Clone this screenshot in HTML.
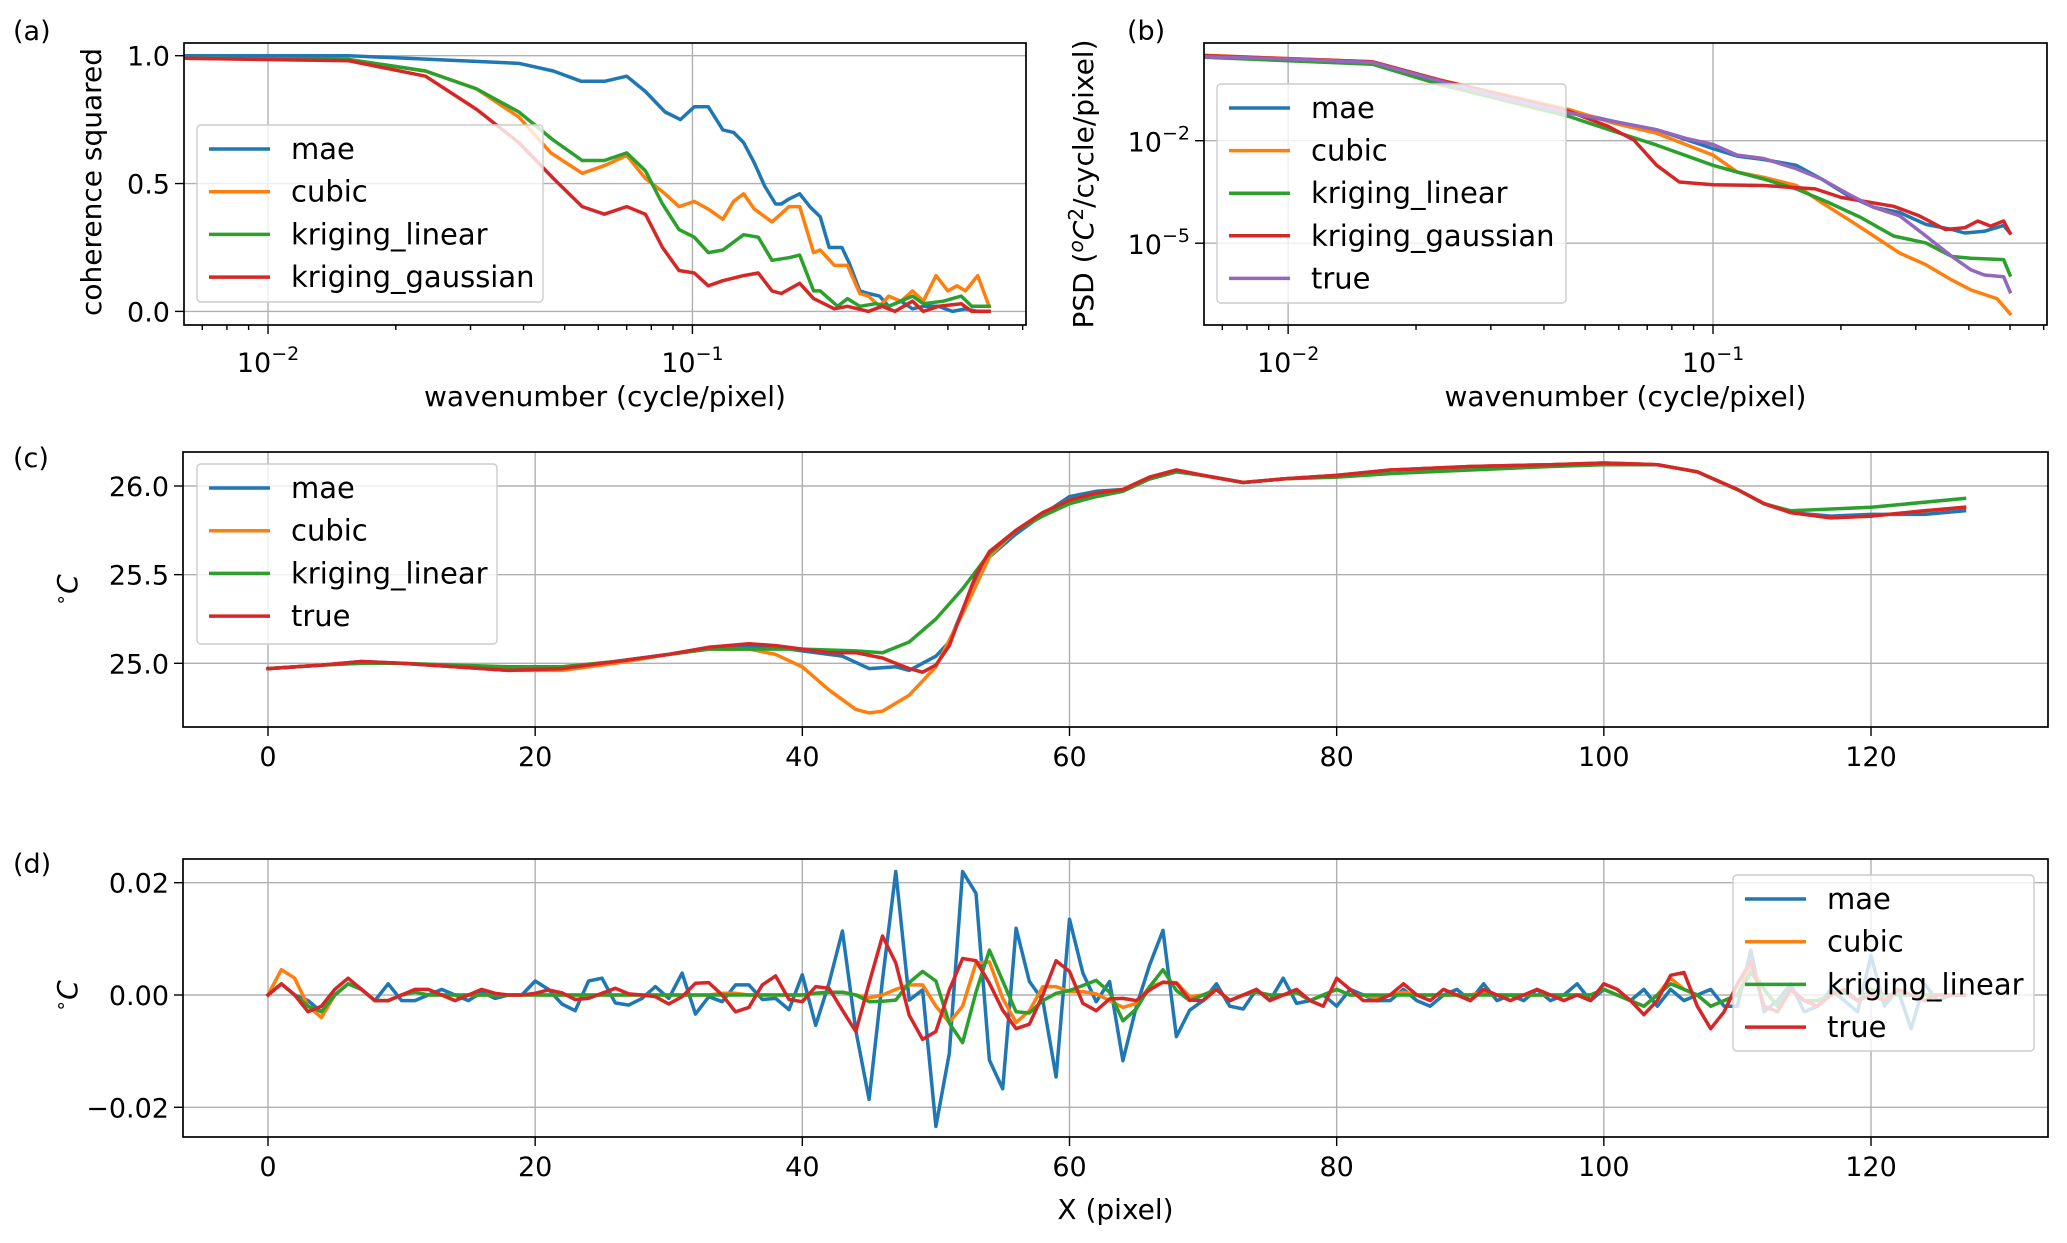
<!DOCTYPE html>
<html><head><meta charset="utf-8">
<style>
html,body{margin:0;padding:0;background:#fff;}
svg{display:block;font-family:"DejaVu Sans","Liberation Sans",sans-serif;}
</style></head>
<body>
<svg id="fig" width="2067" height="1243" viewBox="0 0 2067 1243" xmlns="http://www.w3.org/2000/svg">
</svg>
<script>
// ---------- Panel (a): coherence squared ----------
const cohMaeF = [0.00637,0.0155,0.0391,0.047,0.0547,0.0621,0.07,0.0775,0.0862,0.0937,0.101,0.109,0.118,0.125,0.132,0.14,0.148,0.157,0.162,0.169,0.179,0.189,0.2,0.21,0.225,0.234,0.248,0.26,0.276,0.29,0.31,0.33,0.35,0.38,0.41,0.44,0.47,0.5];
const cohMae = [1.0,1.0,0.97,0.94,0.90,0.90,0.92,0.86,0.78,0.75,0.80,0.80,0.71,0.70,0.66,0.58,0.49,0.42,0.42,0.44,0.46,0.41,0.37,0.25,0.25,0.19,0.08,0.07,0.06,0.02,0.04,0.01,0.02,0.02,0.0,0.01,0.0,0.0];
const cohCubicF = [0.00637,0.0155,0.0235,0.031,0.039,0.0464,0.055,0.062,0.07,0.0775,0.0862,0.093,0.101,0.109,0.118,0.125,0.132,0.14,0.154,0.169,0.179,0.193,0.2,0.216,0.232,0.248,0.26,0.276,0.29,0.31,0.33,0.35,0.375,0.4,0.42,0.44,0.47,0.5];
const cohCubic = [0.99,0.985,0.94,0.87,0.76,0.62,0.54,0.57,0.61,0.52,0.46,0.41,0.43,0.40,0.36,0.43,0.46,0.40,0.35,0.41,0.41,0.23,0.24,0.18,0.18,0.07,0.06,0.02,0.06,0.04,0.08,0.04,0.14,0.08,0.10,0.08,0.14,0.02];
const cohLinF = [0.00637,0.0155,0.0235,0.031,0.039,0.047,0.055,0.062,0.07,0.0775,0.085,0.093,0.101,0.109,0.118,0.132,0.143,0.154,0.169,0.179,0.193,0.2,0.22,0.232,0.248,0.27,0.29,0.33,0.35,0.39,0.43,0.455,0.5];
const cohLin = [0.99,0.985,0.94,0.87,0.78,0.67,0.59,0.59,0.62,0.55,0.42,0.32,0.29,0.23,0.24,0.30,0.29,0.20,0.21,0.22,0.08,0.08,0.02,0.05,0.02,0.03,0.02,0.06,0.03,0.04,0.06,0.02,0.02];
const cohGauF = [0.00637,0.0155,0.0235,0.031,0.039,0.047,0.055,0.062,0.07,0.0775,0.085,0.093,0.101,0.109,0.118,0.132,0.143,0.154,0.162,0.179,0.193,0.216,0.232,0.26,0.28,0.3,0.33,0.35,0.38,0.43,0.455,0.5];
const cohGau = [0.99,0.98,0.92,0.79,0.66,0.52,0.41,0.38,0.41,0.38,0.25,0.16,0.15,0.10,0.12,0.14,0.15,0.08,0.07,0.11,0.05,0.01,0.02,0.0,0.02,0.0,0.04,0.0,0.02,0.03,0.0,0.0];
const cohYTicks = [0.0,0.5,1.0];
const cohYLabels = ["0.0","0.5","1.0"];

// ---------- Panel (b): PSD (log10 values) ----------
const psdTrueF = [0.00634,0.01,0.0158,0.0227,0.0322,0.0458,0.0586,0.0737,0.0863,0.1,0.114,0.1315,0.157,0.18,0.208,0.239,0.275,0.317,0.365,0.405,0.435,0.483,0.5];
const psdTrue = [0.458,0.39,0.29,-0.25,-0.75,-1.19,-1.44,-1.68,-1.93,-2.11,-2.42,-2.52,-2.82,-3.12,-3.56,-3.95,-4.2,-4.79,-5.39,-5.78,-5.93,-5.98,-6.42];
const psdMaeF = [0.00634,0.01,0.0158,0.0227,0.0322,0.0458,0.0586,0.0737,0.1,0.114,0.1315,0.157,0.18,0.208,0.239,0.275,0.317,0.365,0.391,0.435,0.483,0.5];
const psdMae = [0.458,0.39,0.29,-0.25,-0.75,-1.14,-1.44,-1.68,-2.23,-2.45,-2.55,-2.72,-3.12,-3.61,-3.95,-4.1,-4.45,-4.6,-4.7,-4.65,-4.48,-4.7];
const psdCubicF = [0.00634,0.0158,0.0227,0.0458,0.0586,0.0737,0.1,0.114,0.1315,0.157,0.18,0.208,0.239,0.275,0.317,0.365,0.405,0.466,0.5];
const psdCubic = [0.5,0.31,-0.22,-1.09,-1.49,-1.78,-2.42,-2.92,-3.07,-3.31,-3.81,-4.3,-4.79,-5.29,-5.63,-6.08,-6.37,-6.62,-7.06];
const psdLinF = [0.00634,0.0158,0.0227,0.0458,0.0586,0.0737,0.1,0.114,0.1315,0.157,0.187,0.223,0.266,0.317,0.365,0.405,0.483,0.5];
const psdLin = [0.44,0.24,-0.35,-1.29,-1.73,-2.13,-2.72,-2.92,-3.12,-3.41,-3.81,-4.25,-4.79,-4.99,-5.39,-5.44,-5.48,-5.93];
const psdGauF = [0.00634,0.0158,0.0227,0.0458,0.0566,0.0651,0.0737,0.0833,0.1,0.1315,0.174,0.2,0.266,0.306,0.352,0.391,0.42,0.45,0.483,0.5];
const psdGau = [0.49,0.31,-0.22,-1.14,-1.58,-1.98,-2.72,-3.21,-3.29,-3.31,-3.41,-3.66,-3.92,-4.2,-4.6,-4.55,-4.35,-4.5,-4.35,-4.7];
const psdYTicks = [-5,-2];

// ---------- Panel (c): temperature profile ----------
const tTrueX = [0,4,7,10,14,18,22,26,30,33,36,38,40,42,44,46,48,49,50,51,52,53,54,56,58,60,62,64,66,68,70,73,76,80,84,90,96,100,104,107,110,112,114,117,120,124,127];
const tTrue = [24.97,24.99,25.01,25.0,24.98,24.96,24.97,25.01,25.05,25.09,25.11,25.1,25.08,25.06,25.06,25.03,24.97,24.95,24.99,25.1,25.3,25.5,25.63,25.75,25.85,25.92,25.96,25.98,26.05,26.09,26.06,26.02,26.04,26.06,26.09,26.11,26.12,26.13,26.12,26.08,25.98,25.9,25.85,25.82,25.83,25.86,25.88];
const tMaeX = [0,4,7,10,14,18,22,26,30,33,36,38,40,42,43,45,47,48,50,51,52,53,54,56,58,60,62,64,66,68,70,73,76,80,84,90,96,100,104,107,110,112,114,117,120,124,127];
const tMae = [24.97,24.99,25.01,25.0,24.98,24.96,24.97,25.01,25.05,25.09,25.1,25.09,25.07,25.05,25.04,24.97,24.98,24.96,25.04,25.12,25.3,25.48,25.6,25.73,25.84,25.94,25.97,25.98,26.04,26.08,26.06,26.02,26.04,26.06,26.09,26.11,26.12,26.13,26.12,26.08,25.98,25.9,25.85,25.83,25.84,25.84,25.86];
const tCubicX = [0,4,7,10,14,18,22,26,30,33,36,38,40,42,44,45,46,48,50,52,54,56,58,60,62,64,66,68,70,73,76,80,84,90,96,100,104,107,110,112,114,117,120,124,127];
const tCubic = [24.97,24.99,25.0,25.0,24.98,24.96,24.96,25.0,25.05,25.08,25.08,25.05,24.98,24.85,24.74,24.72,24.73,24.82,24.98,25.28,25.6,25.75,25.85,25.92,25.96,25.98,26.05,26.09,26.06,26.02,26.04,26.06,26.09,26.11,26.12,26.13,26.12,26.08,25.98,25.9,25.85,25.82,25.83,25.86,25.88];
const tLinX = [0,4,7,10,14,18,22,26,30,33,36,40,44,46,48,50,52,54,56,58,60,62,64,66,68,70,73,76,80,84,90,96,100,104,107,110,112,114,120,127];
const tLin = [24.97,24.99,25.0,25.0,24.99,24.98,24.98,25.01,25.05,25.08,25.08,25.08,25.07,25.06,25.12,25.25,25.42,25.62,25.75,25.83,25.9,25.94,25.97,26.04,26.08,26.06,26.02,26.04,26.05,26.07,26.09,26.11,26.12,26.12,26.08,25.98,25.9,25.86,25.88,25.93];
const tYTicks = [25.0,25.5,26.0];
const tYLabels = ["25.0","25.5","26.0"];
const xTicks = [0,20,40,60,80,100,120];

// ---------- Panel (d): differences (x 0.001 °C), index 0..127 ----------
const dMae = [0,2,0,-1,-3,0,2,1,-1,2,-1,-1,0,1,0,-1,0.5,-0.6,0,0,2.5,1,-1.6,-2.8,2.5,3,-1.4,-1.8,-0.6,1.5,-0.6,3.9,-3.4,-0.3,-1.2,1.8,1.8,-0.8,-0.6,-2.6,3.6,-5.4,2.1,11.4,-6.3,-18.6,2.7,22,-0.9,0.9,-23.4,-10.4,22,18.1,-11.6,-16.7,11.9,2.4,-0.9,-14.6,13.5,3.9,-1.2,2.4,-11.7,-2.1,5.4,11.5,-7.4,-2.7,-1,2,-2,-2.5,1,-1,3,-1.5,-1,0,-2,1,0,-1,-1,1,-1,-2,0,1,-1,2,-1,0,-1,1,-1,0,2,-1,1,0,-1,1,-2,1,-1,0,1,-2,-2,8,-3,-1,2,-3,-2,1,-1,-3,7,-2,1,-6,2,-1,0,0];
const dCubic = [0,4.5,3,-2,-4,0,2,1,-1,-1,0,0.5,0,0,0,0,0,0,0,0,0,0,0,0,0,0,0,0,0,0,0,0,0,0,0.3,0.3,0,0,0,0,0,0.3,0.5,0.5,0,-0.5,0,1,1.8,1.8,-2,-4.9,-2,5.7,5.9,-0.6,-4.9,-2.8,1.5,1.5,0.6,0.6,0.2,-1,-2.2,-1.5,1.5,2.2,2.2,-0.3,0,1,-1,0,0.5,0,0,0.5,-1,0,1,0,0,-0.5,0,0.5,0,0,0,0,0,0.5,0,0,0,0,0,0,0,0,1,0,-1,-2,0,3,1,0,-2,-1,0,5,1,-2,1,-1,-1,0,0.5,-1,1,0,0,0,0,0,0,0];
const dLin = [0,2,0,-2,-3,0,2,1,-1,-1,0,0.5,0,0,0,0,0,0,0,0,0,0,0,0,0,0,0,0,0,0,0,0,0,0,0,0,0,0,0,0,0,0.3,0.5,0.5,0,-1.2,-1.1,-0.9,2.2,4.2,2.5,-5,-8.5,0.5,8,2.5,-3,-3.2,-1,0.3,0.8,1.7,2.6,0.5,-4.6,-2.5,1.5,4.5,0.8,-1,0,1,-1,0,0.5,0,0,0.5,-1,0,1,0,0,0,0,0,0,0,0,0,0,0,0,0,0,0,0,0,0,0,1,0,-1,-2,0,2,1,0,-2,-1,0,4,1,-2,1,-1,-1,0,0.5,-1,1,0,0,0,0,0,0,0];
const dTrue = [0,2,0,-3,-2,1,3,1,-1,-1,0,1,1,0,-1,0,1,0.3,0,0,0.3,0.9,0.4,-0.8,-0.6,0.3,1.2,0.2,0,-0.3,-1.6,-0.3,2.1,2.2,0,-3,-2.2,1.8,3.4,-0.8,-1.2,1.5,1.2,-2.7,-6.5,2.1,10.5,5.7,-3.6,-7.9,-6.5,0.9,6.5,6.1,2.1,-2.7,-6,-5.2,0,6.1,4.2,-1.5,-2.8,-0.7,-0.6,-1,0.9,2.3,2.1,-0.9,-1,1,-1,0,1,-1,0,1,-1,-2,3,1,-1,-1,0,2,0,-1,1,0,-1,1,0,-1,0,1,0,-1,0,-1,2,1,-1,-3.5,-1,3.5,4,-2,-6,-3,2,6,-2,-3,1,-1,-2,0,1,-1,0,-1,1,0,-1,0,0,0];
const dYTicks = [-0.02,0,0.02];
const dYLabels = ["\u22120.02","0.00","0.02"];

const C = {blue:"#1f77b4", orange:"#ff7f0e", green:"#2ca02c", red:"#d62728", purple:"#9467bd"};
const NS = "http://www.w3.org/2000/svg";
const svg = document.getElementById("fig");
const LW = 3.5, FS = 27, LFS = 29, TFS = 28;

function mk(tag, attrs, parent, text){
  const e = document.createElementNS(NS, tag);
  for (const k in attrs) e.setAttribute(k, attrs[k]);
  if (text !== undefined) e.textContent = text;
  (parent||svg).appendChild(e);
  return e;
}
function linScale(d0,d1,r0,r1){return v=>r0+(v-d0)*(r1-r0)/(d1-d0);}
function logScale(l0,l1,r0,r1){return v=>r0+(Math.log10(v)-l0)*(r1-r0)/(l1-l0);}

function axesFrame(g, L,T,R,B){
  const r = mk("rect",{x:L,y:T,width:R-L,height:B-T,fill:"none",stroke:"#000","stroke-width":1.7},g);
  
  
}
function grid(g, x1,y1,x2,y2){
  const l = mk("line",{x1:x1,y1:y1,x2:x2,y2:y2,stroke:"#b0b0b0","stroke-width":1.4},g);
  
  
}
function tick(g,x1,y1,x2,y2){
  const l = mk("line",{x1:x1,y1:y1,x2:x2,y2:y2,stroke:"#000","stroke-width":1.4},g);
  
  
}
function label(g,x,y,txt,anchor,size,name,rot){
  const attrs = {x:x,y:y,"text-anchor":anchor||"middle","font-size":size||FS,fill:"#000"};
  if (rot) attrs.transform = "rotate(-90 "+x+" "+y+")";
  const t = mk("text",attrs,g,txt);
  
  
  return t;
}
function powLabel(g,x,y,exp,anchor,name){
  const t = mk("text",{x:x,y:y,"text-anchor":anchor,"font-size":FS,fill:"#000"},g);
  
  
  mk("tspan",{},t,"10");
  mk("tspan",{"font-size":19,dy:-12},t,"\u2212"+Math.abs(exp));
  return t;
}
function series(g, xs, ys, sx, sy, color, name, L,T,R,B, clipId){
  const pts = xs.map((x,i)=>sx(x).toFixed(1)+","+sy(ys[i]).toFixed(1)).join(" ");
  const p = mk("polyline",{points:pts,fill:"none",stroke:color,"stroke-width":LW,"stroke-linejoin":"round","stroke-linecap":"square","clip-path":"url(#"+clipId+")"},g);
  
  
}
function clip(id,L,T,R,B){
  let defs = svg.querySelector("defs") || mk("defs",{});
  const c = mk("clipPath",{id:id},defs);
  mk("rect",{x:L,y:T,width:R-L,height:B-T},c);
}
function legend(g, x, y, w, h, entries, rowH, name){
  const lg = mk("g",{},g);
  
  
  const r = mk("rect",{x:x,y:y,width:w,height:h,rx:4,fill:"#fff","fill-opacity":0.8,stroke:"#cccccc","stroke-width":1.4},lg);
  
  
  entries.forEach((e,i)=>{
    const cy = y + 24 + i*rowH;
    const ln = mk("line",{x1:x+12,y1:cy,x2:x+73,y2:cy,stroke:e[1],"stroke-width":LW},lg);
    
    
    const t = mk("text",{x:x+94,y:cy+10,"font-size":LFS,fill:"#000"},lg,e[0]);
    
    
  });
}
function logAxisX(g, sx, L, R, B, l0, l1, decadesLabeled){
  for (let d=-3; d<=0; d++){
    for (let m=1; m<10; m++){
      const v = m*Math.pow(10,d);
      const lv = Math.log10(v);
      if (lv < l0-1e-9 || lv > l1+1e-9) continue;
      const x = sx(v);
      if (m===1){ tick(g,x,B,x,B+9); }
      else tick(g,x,B,x,B+5);
    }
  }
  decadesLabeled.forEach(d=>{
    const x = sx(Math.pow(10,d));
    powLabel(g, x, B+47, d, "middle", 'x-tick-label');
  });
}

// ===== Panel (a) =====
(function(){
  const L=184,T=43,R=1026,B=325, l0=-2.198, l1=-0.214;
  const g = mk("g",{});  
  const sx = logScale(l0,l1,L,R), sy = linScale(0,1,311.4,55.7);
  clip("clipA",L,T,R,B);
  [-2,-1].forEach(d=>grid(g,sx(Math.pow(10,d)),T,sx(Math.pow(10,d)),B));
  cohYTicks.forEach(v=>grid(g,L,sy(v),R,sy(v)));
  series(g,cohMaeF,cohMae,sx,sy,C.blue,'line-mae',L,T,R,B,"clipA");
  series(g,cohCubicF,cohCubic,sx,sy,C.orange,'line-cubic',L,T,R,B,"clipA");
  series(g,cohLinF,cohLin,sx,sy,C.green,'line-kriging-linear',L,T,R,B,"clipA");
  series(g,cohGauF,cohGau,sx,sy,C.red,'line-kriging-gaussian',L,T,R,B,"clipA");
  axesFrame(g,L,T,R,B);
  cohYTicks.forEach((v,i)=>{tick(g,L-9,sy(v),L,sy(v)); label(g,L-14,sy(v)+10,cohYLabels[i],"end",FS,'y-tick-label');});
  logAxisX(g,sx,L,R,B,l0,l1,[-2,-1]);
  label(g,(L+R)/2,406,"wavenumber (cycle/pixel)","middle",TFS,'x-axis-title');
  label(g,101,182,"coherence squared","middle",TFS,'y-axis-title',true);
  legend(g,197,125,346,177,[["mae",C.blue],["cubic",C.orange],["kriging_linear",C.green],["kriging_gaussian",C.red]],42.7,'legend-a');
  label(g,13,40,"(a)","start",27,'panel-label-a');
})();

// ===== Panel (b) =====
(function(){
  const L=1204,T=43,R=2047,B=325, l0=-2.198, l1=-0.214;
  const g = mk("g",{});  
  const sx = logScale(l0,l1,L,R);
  const sy = v=>140.7 + (-2 - v)*34.17;
  clip("clipB",L,T,R,B);
  [-2,-1].forEach(d=>grid(g,sx(Math.pow(10,d)),T,sx(Math.pow(10,d)),B));
  psdYTicks.forEach(v=>grid(g,L,sy(v),R,sy(v)));
  series(g,psdMaeF,psdMae,sx,sy,C.blue,'line-mae',L,T,R,B,"clipB");
  series(g,psdCubicF,psdCubic,sx,sy,C.orange,'line-cubic',L,T,R,B,"clipB");
  series(g,psdLinF,psdLin,sx,sy,C.green,'line-kriging-linear',L,T,R,B,"clipB");
  series(g,psdGauF,psdGau,sx,sy,C.red,'line-kriging-gaussian',L,T,R,B,"clipB");
  series(g,psdTrueF,psdTrue,sx,sy,C.purple,'line-true',L,T,R,B,"clipB");
  axesFrame(g,L,T,R,B);
  psdYTicks.forEach(v=>{tick(g,L-9,sy(v),L,sy(v)); powLabel(g,L-14,sy(v)+11,v,"end",'y-tick-label');});
  logAxisX(g,sx,L,R,B,l0,l1,[-2,-1]);
  label(g,(L+R)/2,406,"wavenumber (cycle/pixel)","middle",TFS,'x-axis-title');
  const yt = mk("text",{x:1093,y:184,"text-anchor":"middle","font-size":TFS,transform:"rotate(-90 1093 184)"},g);
  
  
  mk("tspan",{},yt,"PSD (");
  mk("tspan",{"font-style":"italic","font-size":20,dy:-10},yt,"o");
  mk("tspan",{"font-style":"italic",dy:10},yt,"C");
  mk("tspan",{"font-size":20,dy:-10},yt,"2");
  mk("tspan",{dy:10},yt,"/cycle/pixel)");
  legend(g,1217,84,349,219,[["mae",C.blue],["cubic",C.orange],["kriging_linear",C.green],["kriging_gaussian",C.red],["true",C.purple]],42.6,'legend-b');
  label(g,1127,40,"(b)","start",27,'panel-label-b');
})();

// ===== Panel (c) =====
(function(){
  const L=183,T=452,R=2048,B=727;
  const g = mk("g",{});  
  const sx = linScale(0,120,268,1871), sy = linScale(25,26,663.3,486);
  clip("clipC",L,T,R,B);
  xTicks.forEach(v=>grid(g,sx(v),T,sx(v),B));
  tYTicks.forEach(v=>grid(g,L,sy(v),R,sy(v)));
  series(g,tMaeX,tMae,sx,sy,C.blue,'line-mae',L,T,R,B,"clipC");
  series(g,tCubicX,tCubic,sx,sy,C.orange,'line-cubic',L,T,R,B,"clipC");
  series(g,tLinX,tLin,sx,sy,C.green,'line-kriging-linear',L,T,R,B,"clipC");
  series(g,tTrueX,tTrue,sx,sy,C.red,'line-true',L,T,R,B,"clipC");
  axesFrame(g,L,T,R,B);
  tYTicks.forEach((v,i)=>{tick(g,L-9,sy(v),L,sy(v)); label(g,L-14,sy(v)+10,tYLabels[i],"end",FS,'y-tick-label');});
  xTicks.forEach(v=>{tick(g,sx(v),B,sx(v),B+9); label(g,sx(v),B+39,String(v),"middle",FS,'x-tick-label');});
  const yt = mk("text",{x:77,y:590,"text-anchor":"middle","font-size":TFS,transform:"rotate(-90 77 590)"},g);
   
  mk("tspan",{"font-size":19,dy:-10},yt,"\u2218"); mk("tspan",{"font-style":"italic",dy:10},yt,"C");
  legend(g,197,464,300,180,[["mae",C.blue],["cubic",C.orange],["kriging_linear",C.green],["true",C.red]],42.7,'legend-c');
  label(g,13,467,"(c)","start",27,'panel-label-c');
})();

// ===== Panel (d) =====
(function(){
  const L=183,T=859,R=2048,B=1137;
  const g = mk("g",{});  
  const sx = linScale(0,120,268,1871), sy = linScale(0,0.02,995,882.7);
  const idx = dMae.map((v,i)=>i);
  const sc = v=>v*0.001;
  clip("clipD",L,T,R,B);
  xTicks.forEach(v=>grid(g,sx(v),T,sx(v),B));
  dYTicks.forEach(v=>grid(g,L,sy(v),R,sy(v)));
  series(g,idx,dMae.map(sc),sx,sy,C.blue,'line-mae',L,T,R,B,"clipD");
  series(g,idx,dCubic.map(sc),sx,sy,C.orange,'line-cubic',L,T,R,B,"clipD");
  series(g,idx,dLin.map(sc),sx,sy,C.green,'line-kriging-linear',L,T,R,B,"clipD");
  series(g,idx,dTrue.map(sc),sx,sy,C.red,'line-true',L,T,R,B,"clipD");
  axesFrame(g,L,T,R,B);
  dYTicks.forEach((v,i)=>{tick(g,L-9,sy(v),L,sy(v)); label(g,L-14,sy(v)+10,dYLabels[i],"end",FS,'y-tick-label');});
  xTicks.forEach(v=>{tick(g,sx(v),B,sx(v),B+9); label(g,sx(v),B+39,String(v),"middle",FS,'x-tick-label');});
  label(g,(L+R)/2,1219,"X (pixel)","middle",TFS,'x-axis-title');
  const yt = mk("text",{x:77,y:996,"text-anchor":"middle","font-size":TFS,transform:"rotate(-90 77 996)"},g);
   
  mk("tspan",{"font-size":19,dy:-10},yt,"\u2218"); mk("tspan",{"font-style":"italic",dy:10},yt,"C");
  legend(g,1733,875,301,176,[["mae",C.blue],["cubic",C.orange],["kriging_linear",C.green],["true",C.red]],42.7,'legend-d');
  label(g,13,873,"(d)","start",27,'panel-label-d');
})();
</script>
</body></html>
